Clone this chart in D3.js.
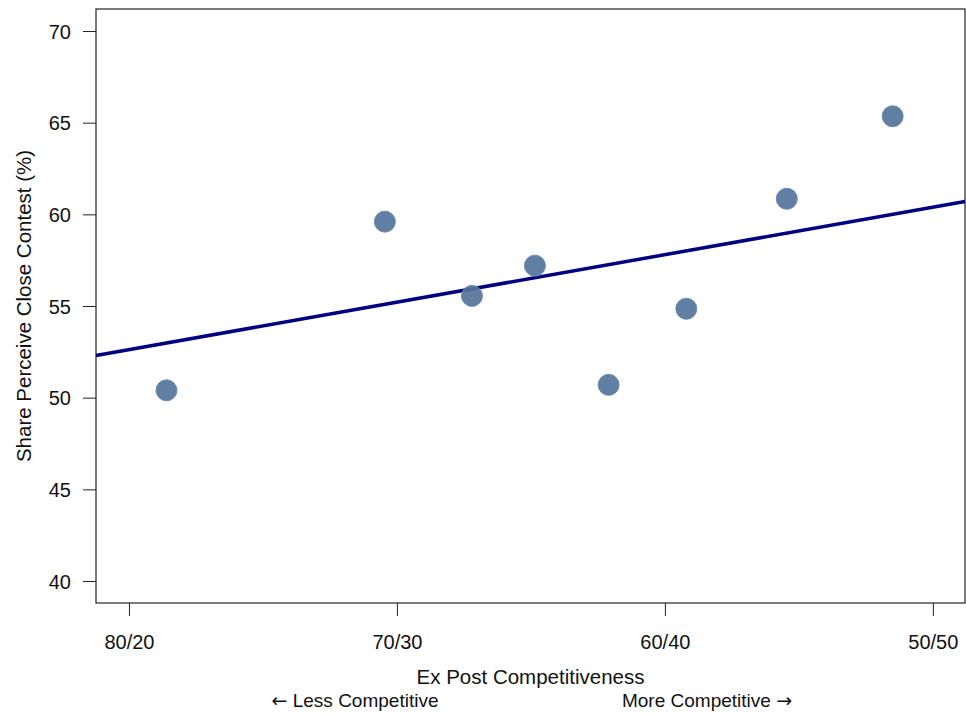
<!DOCTYPE html>
<html>
<head>
<meta charset="utf-8">
<script src="https://cdn.jsdelivr.net/npm/d3@7"></script>
<style>
  body { margin: 0; background: #fff; }
  svg { font-family: "Liberation Sans", Arial, sans-serif; }
  .axis text { font-size: 20px; fill: #111; }
  .axis path, .axis line { stroke: #222; }
  .arrow { font-family: "DejaVu Sans", sans-serif; }
</style>
</head>
<body>
<svg id="chart" width="966" height="715"></svg>
<script>
// winning vote share of the leading candidate (x), share perceiving a close contest (y)
const voteShare = [78.6, 70.45, 67.2, 64.85, 62.1, 59.2, 55.45, 51.5];
const perceiveClose = [50.4, 59.6, 55.55, 57.2, 50.7, 54.85, 60.85, 65.35];

// fitted line, evaluated at the plot edges
const fitX = [81.23, 48.8];
const fitY = [52.3, 60.7];

const xTicks = [80, 70, 60, 50];
const xTickLabels = ['80/20', '70/30', '60/40', '50/50'];
const yTicks = [40, 45, 50, 55, 60, 65, 70];

const margin = {top: 9, right: 1, bottom: 112, left: 96};
const svg = d3.select('#chart');
const width = +svg.attr('width') - margin.left - margin.right;
const height = +svg.attr('height') - margin.top - margin.bottom;

const g = svg.append('g')
  .attr('transform', 'translate(' + margin.left + ',' + margin.top + ')');

let x = d3.scaleLinear().domain([81.23, 48.8]).range([0, width]);
let y = d3.scaleLinear().domain([38.8, 71.2]).range([height, 0]);

// plot frame
g.append('rect')
  .attr('width', width)
  .attr('height', height)
  .attr('fill', 'none')
  .attr('stroke', '#222')
  .attr('stroke-width', 1.2);

// x axis
g.append('g')
  .attr('class', 'axis axis-x')
  .attr('transform', 'translate(0,' + height + ')')
  .call(d3.axisBottom(x).tickValues(xTicks)
    .tickFormat((d, i) => xTickLabels[i]).tickSize(13).tickPadding(19).tickSizeOuter(0))
  .call(a => a.select('.domain').remove());

// y axis
g.append('g')
  .attr('class', 'axis axis-y')
  .call(d3.axisLeft(y).tickValues(yTicks).tickSize(13).tickPadding(12).tickSizeOuter(0))
  .call(a => a.select('.domain').remove())
  .selectAll('text').attr('dy', '0.36em');

// axis titles
function label(tx, ty, txt, size) {
  return svg.append('text')
    .attr('x', tx)
    .attr('y', ty)
    .attr('text-anchor', 'middle')
    .style('font-size', size + 'px')
    .attr('fill', '#111')
    .text(txt);
}

label(margin.left + width / 2, 684, 'Ex Post Competitiveness', 20.5);

let less = label(355, 707, null, 19);
less.append('tspan').attr('class', 'arrow').text('\u2190');
less.append('tspan').text(' Less Competitive');

let more = label(707, 707, null, 19);
more.append('tspan').text('More Competitive ');
more.append('tspan').attr('class', 'arrow').text('\u2192');

svg.append('text')
  .attr('transform', 'translate(31,' + (margin.top + height / 2) + ') rotate(-90)')
  .attr('text-anchor', 'middle')
  .style('font-size', '20.5px')
  .attr('fill', '#111')
  .text('Share Perceive Close Contest (%)');

// fitted line
let fitLine = d3.line()
  .x(function(d) {return x(d[0]);})
  .y(function(d) {return y(d[1]);});

g.append('path')
  .data([d3.zip(fitX, fitY)])
  .attr('fill', 'none')
  .attr('stroke', '#000080')
  .attr('stroke-width', 3.5)
  .attr('d', fitLine);

// points
g.selectAll('circle.pt')
  .data(d3.zip(voteShare, perceiveClose))
  .enter().append('circle')
  .attr('class', 'pt')
  .attr('cx', d => x(d[0]))
  .attr('cy', d => y(d[1]))
  .attr('r', 10.5)
  .attr('fill', '#52749a')
  .attr('fill-opacity', 0.92)
  .attr('stroke', '#6d8aa8')
  .attr('stroke-width', 1);
</script>
</body>
</html>
